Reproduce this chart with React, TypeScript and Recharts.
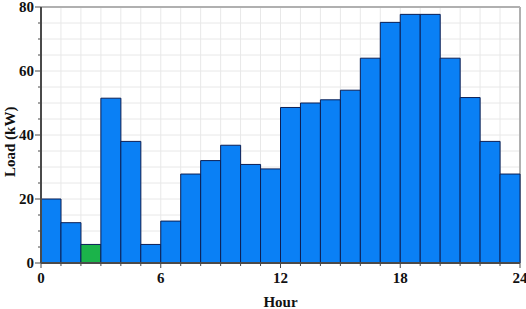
import React from 'react';
import {
  BarChart,
  Bar,
  Cell,
  XAxis,
  YAxis,
  CartesianGrid,
} from 'recharts';

// hourly load, one bar per hour (0-1, 1-2, ... 23-24)
const hours = Array.from({ length: 24 }, (_, i) => i);
const loadKW = [
  20, 12.6, 5.8, 51.5, 38, 5.8, 13.1, 27.8, 32, 36.8, 30.8, 29.4,
  48.6, 50, 51, 54, 64, 75.2, 77.7, 77.7, 64, 51.7, 38, 27.8,
];
const highlightHour = 2;

const hourTicks = Array.from({ length: 25 }, (_, i) => i);
const majorHourTicks = [0, 6, 12, 18, 24];
const loadTicks = Array.from({ length: 17 }, (_, i) => i * 5);
const majorLoadTicks = [0, 20, 40, 60, 80];

const data = hours.map((h, i) => ({ hour: h, load: loadKW[i] }));

const FONT = '"Liberation Serif", "Times New Roman", serif';
const AXIS = '#4a4a4a';

const HourTick = (props: any) => {
  const { x, y, payload } = props;
  const major = majorHourTicks.includes(payload.value);
  return (
    <g>
      <line x1={x} x2={x} y1={y} y2={y + (major ? 5 : 3)} stroke={AXIS} strokeWidth={1} />
      {major && (
        <text x={x} y={y + 20} textAnchor="middle" fontFamily={FONT} fontWeight="bold" fontSize={15} fill="#111">
          {payload.value}
        </text>
      )}
    </g>
  );
};

const LoadTick = (props: any) => {
  const { x, y, payload } = props;
  const major = majorLoadTicks.includes(payload.value);
  return (
    <g>
      <line x1={x - (major ? 6 : 3)} x2={x} y1={y} y2={y} stroke={AXIS} strokeWidth={1} />
      {major && (
        <text x={x - 7} y={y + 5} textAnchor="end" fontFamily={FONT} fontWeight="bold" fontSize={15} fill="#111">
          {payload.value}
        </text>
      )}
    </g>
  );
};

const App = () => {
  return (
    <div style={{ position: 'absolute', left: 0, top: 0, width: 526, height: 309, background: '#fff' }}>
      <BarChart
        width={526}
        height={309}
        data={data}
        barCategoryGap={0}
        barGap={0}
        margin={{ top: 7, right: 6, bottom: 0, left: 0 }}
      >
        {/* minor grid: every hour / every 5 kW */}
        <CartesianGrid xAxisId="h" stroke="#e8e8e8" strokeWidth={1} />
        {/* major grid, from the frame axes' ticks */}
        <CartesianGrid xAxisId="top" yAxisId="right" stroke="#b0b0b0" strokeWidth={2} />
        <XAxis xAxisId="cat" dataKey="hour" type="category" hide height={0} />
        <XAxis
          xAxisId="h"
          dataKey="hour"
          type="number"
          domain={[0, 24]}
          allowDataOverflow
          ticks={hourTicks}
          interval={0}
          tickSize={0}
          tickMargin={0}
          tickLine={false}
          tick={<HourTick />}
          axisLine={{ stroke: AXIS, strokeWidth: 2 }}
          height={46}
          label={{
            value: 'Hour',
            position: 'insideBottom',
            offset: 2,
            fontFamily: FONT,
            fontWeight: 'bold',
            fontSize: 15,
            fill: '#111',
          }}
        />
        <XAxis
          xAxisId="top"
          dataKey="hour"
          orientation="top"
          type="number"
          domain={[0, 24]}
          allowDataOverflow
          ticks={majorHourTicks}
          interval={0}
          tick={false}
          tickLine={false}
          height={0}
          axisLine={{ stroke: '#777', strokeWidth: 2 }}
        />
        <YAxis
          domain={[0, 80]}
          allowDataOverflow
          ticks={loadTicks}
          interval={0}
          tickSize={0}
          tickMargin={0}
          tickLine={false}
          tick={<LoadTick />}
          width={41}
          axisLine={{ stroke: AXIS, strokeWidth: 2 }}
          label={{
            value: 'Load (kW)',
            angle: -90,
            position: 'insideLeft',
            offset: 10,
            fontFamily: FONT,
            fontWeight: 'bold',
            fontSize: 15,
            fill: '#111',
            dy: 42,
          }}
        />
        <YAxis
          yAxisId="right"
          orientation="right"
          domain={[0, 80]}
          allowDataOverflow
          ticks={majorLoadTicks}
          interval={0}
          tick={false}
          tickLine={false}
          width={0}
          axisLine={{ stroke: '#777', strokeWidth: 2 }}
        />
        <Bar
          xAxisId="cat"
          dataKey="load"
          fill="#0a80f5"
          stroke="#0b1f55"
          strokeWidth={1}
          isAnimationActive={false}
        >
          {data.map((d) => (
            <Cell key={d.hour} fill={d.hour === highlightHour ? '#1bb34a' : '#0a80f5'} />
          ))}
        </Bar>
      </BarChart>
    </div>
  );
};

export default App;
